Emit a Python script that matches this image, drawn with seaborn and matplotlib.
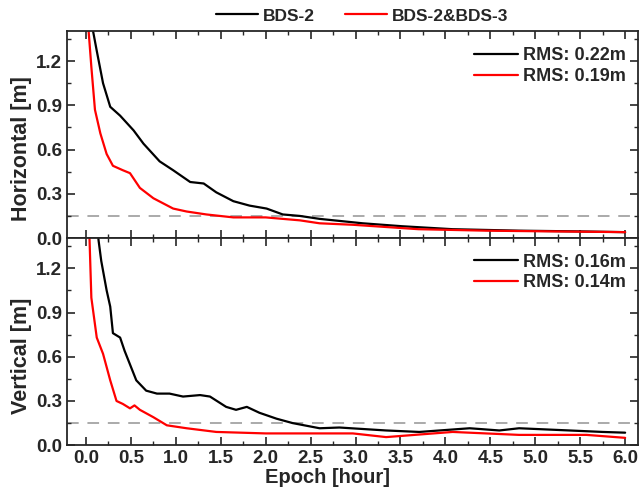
import matplotlib
matplotlib.use("Agg")
import matplotlib.pyplot as plt
from matplotlib.ticker import MultipleLocator, AutoMinorLocator
from matplotlib.lines import Line2D
import seaborn as sns
import pandas as pd

# ---- data ----
h_bds2_x = [0.04, 0.08, 0.12, 0.19, 0.27, 0.38, 0.53, 0.64, 0.82, 0.97, 1.16, 1.31, 1.45, 1.64, 1.82,
            2.01, 2.19, 2.38, 2.6, 3.08, 3.52, 4.08, 4.82, 5.5, 6.0]
h_bds2_y = [1.55, 1.40, 1.27, 1.05, 0.89, 0.83, 0.73, 0.64, 0.52, 0.46, 0.38, 0.37, 0.31, 0.25, 0.22,
            0.20, 0.16, 0.15, 0.13, 0.10, 0.08, 0.06, 0.05, 0.045, 0.04]
h_bds23_x = [0.02, 0.03, 0.06, 0.10, 0.16, 0.23, 0.30, 0.41, 0.49, 0.60, 0.75, 0.97, 1.12, 1.34, 1.64,
             2.0, 2.38, 2.6, 2.97, 3.7, 4.45, 5.2, 6.0]
h_bds23_y = [1.55, 1.40, 1.16, 0.87, 0.71, 0.57, 0.49, 0.46, 0.44, 0.34, 0.27, 0.20, 0.18, 0.16, 0.14,
             0.14, 0.12, 0.10, 0.09, 0.06, 0.05, 0.045, 0.04]
v_bds2_x = [0.12, 0.14, 0.17, 0.23, 0.27, 0.30, 0.38, 0.43, 0.56, 0.67, 0.79, 0.93, 1.08, 1.27, 1.38,
            1.56, 1.67, 1.79, 1.93, 2.12, 2.30, 2.6, 2.82, 3.34, 3.71, 4.27, 4.6, 4.82, 5.38, 5.75, 6.0]
v_bds2_y = [1.55, 1.39, 1.25, 1.05, 0.94, 0.76, 0.73, 0.64, 0.44, 0.37, 0.35, 0.35, 0.33, 0.34, 0.33,
            0.26, 0.24, 0.26, 0.22, 0.18, 0.15, 0.115, 0.12, 0.10, 0.09, 0.115, 0.10, 0.115, 0.10, 0.09, 0.085]
v_bds23_x = [0.03, 0.04, 0.06, 0.12, 0.19, 0.27, 0.34, 0.41, 0.49, 0.54, 0.60, 0.75, 0.90, 1.12, 1.45,
             2.0, 2.6, 2.97, 3.34, 4.08, 4.82, 5.57, 6.0]
v_bds23_y = [1.55, 1.39, 1.0, 0.73, 0.62, 0.44, 0.30, 0.28, 0.25, 0.27, 0.24, 0.19, 0.135, 0.115, 0.09,
             0.08, 0.08, 0.08, 0.055, 0.09, 0.07, 0.07, 0.05]

series_names = ["BDS-2", "BDS-2&BDS-3"]
colors = ["black", "#ff0000"]
rms_h = ["RMS: 0.22m", "RMS: 0.19m"]
rms_v = ["RMS: 0.16m", "RMS: 0.14m"]
threshold = 0.15
x_ticks = [0.0, 0.5, 1.0, 1.5, 2.0, 2.5, 3.0, 3.5, 4.0, 4.5, 5.0, 5.5, 6.0]
y_ticks = [0.0, 0.3, 0.6, 0.9, 1.2]

sns.set_style("ticks")
plt.rcParams["font.family"] = ["Liberation Sans", "DejaVu Sans"]
plt.rcParams["font.weight"] = "bold"

fig = plt.figure(figsize=(6.39, 4.98), dpi=100)
ax1 = fig.add_axes([0.105, 0.522, 0.893, 0.416])
ax2 = fig.add_axes([0.105, 0.106, 0.893, 0.416], sharex=ax1)

panels = [
    (ax1, [(h_bds2_x, h_bds2_y), (h_bds23_x, h_bds23_y)], rms_h, "Horizontal [m]", 0.955),
    (ax2, [(v_bds2_x, v_bds2_y), (v_bds23_x, v_bds23_y)], rms_v, "Vertical [m]", 0.96),
]

for ax, data, rms, ylabel, ytop in panels:
    for (xs, ys), c, lab in zip(data, colors, rms):
        df = pd.DataFrame({"x": xs, "y": ys})
        sns.lineplot(data=df, x="x", y="y", ax=ax, color=c, lw=1.6, label=lab, sort=False)
    ax.axhline(threshold, color="#aaaaaa", ls=(0, (6, 4.5)), lw=1.4, zorder=0)
    ax.set_xlim(-0.21, 6.14)
    ax.set_ylim(0, 1.405)
    ax.yaxis.set_major_locator(MultipleLocator(0.3))
    ax.yaxis.set_minor_locator(AutoMinorLocator(2))
    ax.xaxis.set_major_locator(MultipleLocator(0.5))
    ax.xaxis.set_minor_locator(AutoMinorLocator(2))
    ax.tick_params(which="both", direction="in", top=True, right=True, labelsize=13.5)
    ax.tick_params(which="major", length=6, width=1.2)
    ax.tick_params(which="minor", length=3, width=1.0)
    ax.set_yticks(y_ticks)
    ax.set_yticklabels([f"{v:.1f}" for v in y_ticks], fontweight="bold")
    ax.set_ylabel(ylabel, fontsize=15.5, fontweight="bold", labelpad=3, y=0.43)
    for s in ax.spines.values():
        s.set_linewidth(1.3)
    leg = ax.legend(loc="upper right", frameon=False, fontsize=13, handlelength=2.4,
                    handletextpad=0.3, labelspacing=0.2, borderaxespad=0.0,
                    bbox_to_anchor=(0.992, ytop))
    for t in leg.get_texts():
        t.set_fontweight("bold")

ax1.set_xlabel("")
ax1.tick_params(labelbottom=False)
ax2.set_xticks(x_ticks)
ax2.set_xticklabels([f"{v:.1f}" for v in x_ticks], fontweight="bold")
ax2.set_xlabel("Epoch [hour]", fontsize=14.5, fontweight="bold", labelpad=1, x=0.456)

handles = [Line2D([], [], color=c, lw=1.6) for c in colors]
fleg = fig.legend(handles, series_names, loc="center", bbox_to_anchor=(0.567, 0.968),
                  ncol=2, frameon=False, fontsize=12.5, handlelength=2.4, columnspacing=1.7,
                  handletextpad=0.3, borderpad=0.0)
for t in fleg.get_texts():
    t.set_fontweight("bold")

fig.savefig("out.png", dpi=100)
